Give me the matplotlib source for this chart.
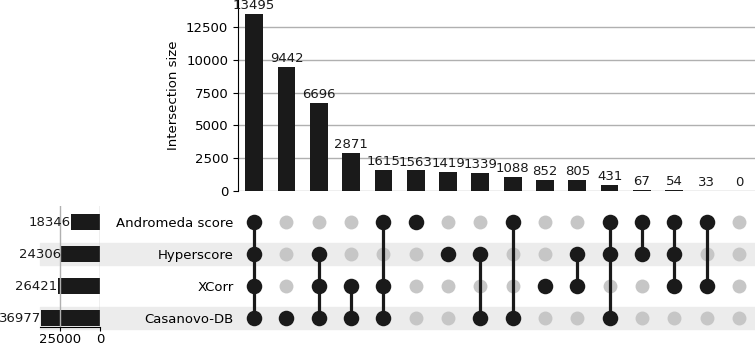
import matplotlib
matplotlib.use("Agg")
import matplotlib.pyplot as plt
from matplotlib.patches import Rectangle
from matplotlib import transforms
import numpy as np

# data
set_names = ["Andromeda score", "Hyperscore", "XCorr", "Casanovo-DB"]
set_totals = [18346, 24306, 26421, 36977]
inter_sizes = [13495, 9442, 6696, 2871, 1615, 1563, 1419, 1339,
               1088, 852, 805, 431, 67, 54, 33, 0]
# which sets (by index in set_names) are part of each intersection
inter_members = [
    [0, 1, 2, 3], [3], [1, 2, 3], [2, 3], [0, 2, 3], [0], [1], [1, 3],
    [0, 3], [2], [1, 2], [0, 1, 3], [0, 1], [0, 1, 2], [0, 2], [],
]

W, H = 755, 347
plt.rcParams["font.size"] = 9.5
fig = plt.figure(figsize=(W / 100, H / 100), dpi=100)
dark = "#1a1a1a"
grey_dot = "#c6c6c6"
band = "#ececec"

n = len(inter_sizes)
xs = np.arange(n)
ys = np.arange(len(set_names))

left = 238 / W
mat_bot = 1 - 334 / H
mat_h = 128 / H
bar_bot = 1 - 191 / H

ax_bar = fig.add_axes([left, bar_bot, 1 - left, 1 - bar_bot])
ax_mat = fig.add_axes([left, mat_bot, 1 - left, mat_h])
# totals panel: bottom spine sits a little above the matrix bottom
ax_tot = fig.add_axes([40 / W, 1 - 327 / H, 60 / W, 121 / H])
for ax in (ax_bar, ax_mat, ax_tot):
    ax.patch.set_visible(False)
    ax.set_zorder(2)

# intersection size bars
ax_bar.bar(xs, inter_sizes, width=0.55, color=dark, zorder=3)
for x, v in zip(xs, inter_sizes):
    ax_bar.text(x, v + 150, str(v), ha="center", va="bottom",
                color=dark, clip_on=False)
ax_bar.set_xlim(-0.5, n - 0.5)
ax_bar.set_ylim(0, 14557)
ax_bar.set_yticks([0, 2500, 5000, 7500, 10000, 12500])
ax_bar.yaxis.grid(True, color="#b0b0b0", linewidth=1)
ax_bar.set_axisbelow(True)
ax_bar.set_xticks([])
for s in ("top", "right", "bottom"):
    ax_bar.spines[s].set_visible(False)
ax_bar.set_ylabel("Intersection size")

# shaded bands for alternating rows
trans = transforms.blended_transform_factory(fig.transFigure, ax_mat.transData)
for r in (1, 3):
    fig.patches.append(Rectangle((40 / W, r - 0.35), 1 - 40 / W, 0.7,
                                 transform=trans, color=band, zorder=-1))

# matrix of dots
for x, members in zip(xs, inter_members):
    for y in ys:
        if y in members:
            continue
        ax_mat.scatter(x, y, s=100, color=grey_dot, zorder=2, linewidths=0)
    if members:
        ax_mat.plot([x, x], [min(members), max(members)], color=dark,
                    linewidth=2.3, zorder=3)
        ax_mat.scatter([x] * len(members), members, s=125, color=dark,
                       zorder=4, linewidths=0)
ax_mat.set_xlim(-0.5, n - 0.5)
ax_mat.set_ylim(len(set_names) - 0.5, -0.5)
ax_mat.set_xticks([])
ax_mat.set_yticks(ys)
ax_mat.set_yticklabels(set_names)
ax_mat.tick_params(axis="y", length=0, pad=3)
for s in ax_mat.spines.values():
    s.set_visible(False)

# set size totals (same row centres as the matrix)
ax_tot.barh(ys, set_totals, height=0.53, color=dark, zorder=2)
for y, v in zip(ys, set_totals):
    ax_tot.text(v, y, str(v), ha="right", va="center",
                color=dark, clip_on=False)
ax_tot.set_xlim(37500, 0)
ax_tot.set_ylim(3 + 9 / 32, -0.5)
ax_tot.set_xticks([25000, 0])
ax_tot.set_yticks([])
ax_tot.tick_params(axis="x", length=3, pad=1.5)
ax_tot.xaxis.grid(True, color="#b0b0b0", linewidth=1)
ax_tot.set_axisbelow(False)
for s in ("top", "right", "left"):
    ax_tot.spines[s].set_visible(False)

fig.savefig("out.png", dpi=100)
